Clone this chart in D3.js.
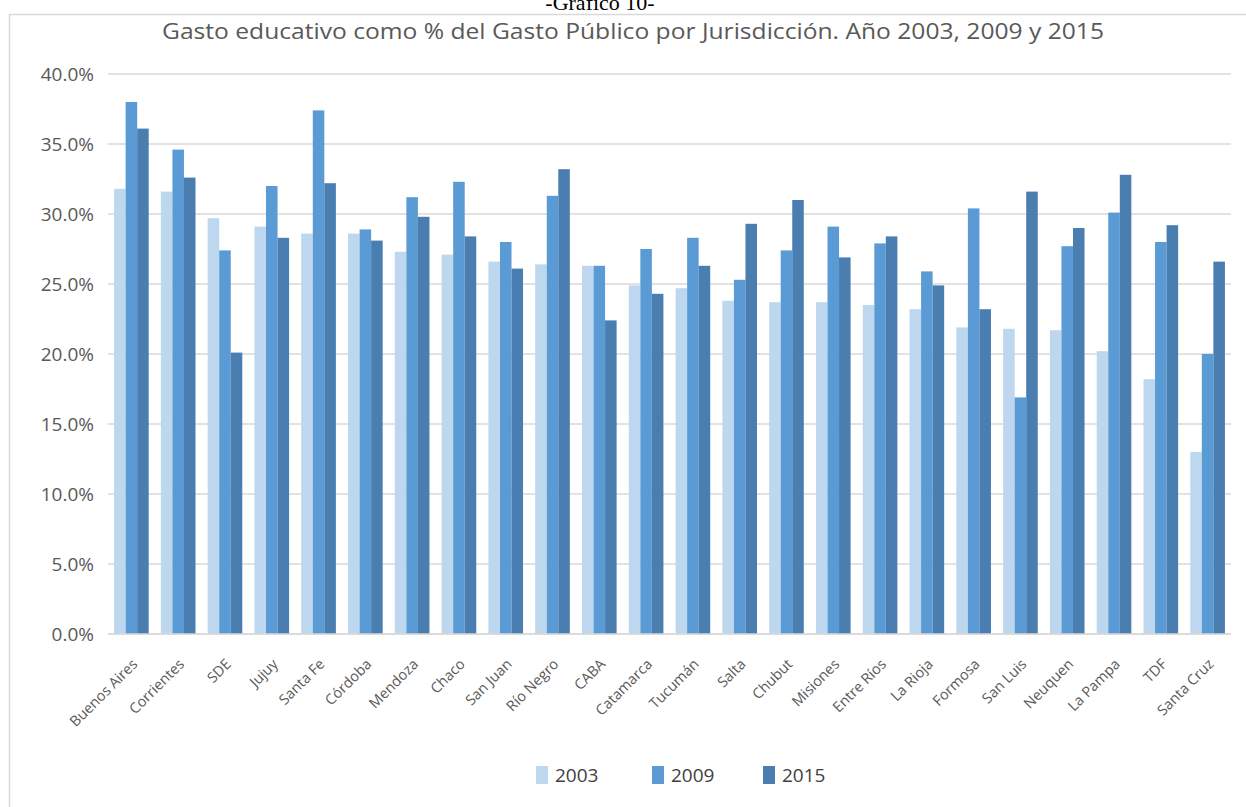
<!DOCTYPE html>
<html>
<head>
<meta charset="utf-8">
<script src="https://cdn.jsdelivr.net/npm/d3@7"></script>
<style>
  html, body { margin: 0; padding: 0; background: #fff; }
  svg { display: block; }
</style>
</head>
<body>
<svg id="chart" width="1246" height="807"></svg>
<script>
const categories = ["Buenos Aires","Corrientes","SDE","Jujuy","Santa Fe","Córdoba","Mendoza","Chaco","San Juan","Río Negro","CABA","Catamarca","Tucumán","Salta","Chubut","Misiones","Entre Ríos","La Rioja","Formosa","San Luis","Neuquen","La Pampa","TDF","Santa Cruz"];
const seriesNames = ["2003","2009","2015"];
const values2003 = [31.8,31.6,29.7,29.1,28.6,28.6,27.3,27.1,26.6,26.4,26.3,24.9,24.7,23.8,23.7,23.7,23.5,23.2,21.9,21.8,21.7,20.2,18.2,13.0];
const values2009 = [38.0,34.6,27.4,32.0,37.4,28.9,31.2,32.3,28.0,31.3,26.3,27.5,28.3,25.3,27.4,29.1,27.9,25.9,30.4,16.9,27.7,30.1,28.0,20.0];
const values2015 = [36.1,32.6,20.1,28.3,32.2,28.1,29.8,28.4,26.1,33.2,22.4,24.3,26.3,29.3,31.0,26.9,28.4,24.9,23.2,31.6,29.0,32.8,29.2,26.6];
const yTicks = [0,5,10,15,20,25,30,35,40];
const titleText = "Gasto educativo como % del Gasto Público por Jurisdicción. Año 2003, 2009 y 2015";
const headerText = "-Gráfico 10-";
const colors = ["#bdd7ee","#5b9bd5","#4a7eb1"];

const seriesValues = [values2003, values2009, values2015];
const rows = categories.map((c, i) => ({cat: c, vals: seriesValues.map(s => s[i])}));

const svg = d3.select("#chart");
const font = "'Open Sans', 'Liberation Sans', sans-serif";

// chart frame
svg.append("rect").attr("x", 9.5).attr("y", 14.5).attr("width", 1300).attr("height", 900)
  .attr("fill", "#fff").attr("stroke", "#d9d9d9").attr("stroke-width", 1.5);

// header (cut off at top, as in the source page)
svg.append("text").attr("x", 600).attr("y", 10).attr("text-anchor", "middle")
  .attr("font-family", "'Liberation Serif', serif").attr("font-size", 22).attr("fill", "#000")
  .text(headerText);

const plotLeft = 108, plotRight = 1231, plotTop = 74, plotBottom = 634;
const x0 = d3.scaleBand().domain(categories).range([plotLeft, plotRight]).paddingInner(0.26).paddingOuter(0.13);
const x1 = d3.scaleBand().domain(seriesNames).range([0, x0.bandwidth()]).padding(0);
const y = d3.scaleLinear().domain([0, 40]).range([plotBottom, plotTop]);

// gridlines
svg.append("g").selectAll("line").data(yTicks).join("line")
  .attr("x1", plotLeft).attr("x2", plotRight)
  .attr("y1", d => y(d)).attr("y2", d => y(d))
  .attr("stroke", "#d9d9d9").attr("stroke-width", 1.5);

// y axis labels
const yAxis = d3.axisLeft(y).tickValues(yTicks).tickFormat(d => d.toFixed(1) + "%").tickSize(0).tickPadding(14);
const yg = svg.append("g").attr("transform", `translate(${plotLeft},0)`).call(yAxis);
yg.select(".domain").remove();
yg.selectAll("text").attr("font-family", font).attr("font-size", 19).attr("fill", "#595959").attr("dy", "0.35em");

// bars
const groups = svg.append("g").selectAll("g").data(rows).join("g")
  .attr("transform", d => `translate(${x0(d.cat)},0)`);
groups.selectAll("rect").data(d => d.vals.map((v, k) => ({k, v}))).join("rect")
  .attr("x", d => x1(seriesNames[d.k]))
  .attr("width", x1.bandwidth())
  .attr("y", d => y(d.v))
  .attr("height", d => y(0) - y(d.v))
  .attr("fill", d => colors[d.k]);

// x axis baseline
svg.append("line").attr("x1", plotLeft).attr("x2", plotRight).attr("y1", plotBottom).attr("y2", plotBottom)
  .attr("stroke", "#d9d9d9").attr("stroke-width", 1.5);

// x labels
const xAxis = d3.axisBottom(x0).tickSize(0).tickPadding(0);
const xg = svg.append("g").attr("transform", `translate(0,${plotBottom})`).call(xAxis);
xg.select(".domain").remove();
xg.selectAll("text")
  .attr("font-family", font).attr("font-size", 14.5).attr("fill", "#595959")
  .attr("text-anchor", "end").attr("dy", null).attr("y", 0)
  .attr("transform", "translate(7,31) rotate(-45)");

// title
svg.append("text").attr("x", 633).attr("y", 39).attr("text-anchor", "middle")
  .attr("font-family", font).attr("font-size", 21).attr("fill", "#595959")
  .attr("textLength", 942).attr("lengthAdjust", "spacingAndGlyphs")
  .text(titleText);

// legend
const legendX = [536, 652, 763];
const lg = svg.append("g").selectAll("g").data(seriesNames).join("g")
  .attr("transform", (d, i) => `translate(${legendX[i]},766)`);
lg.append("rect").attr("width", 12).attr("height", 18).attr("fill", (d, i) => colors[i]);
lg.append("text").attr("x", 19).attr("y", 16).attr("font-family", font).attr("font-size", 19)
  .attr("fill", "#404040").text(d => d);
</script>
</body>
</html>
